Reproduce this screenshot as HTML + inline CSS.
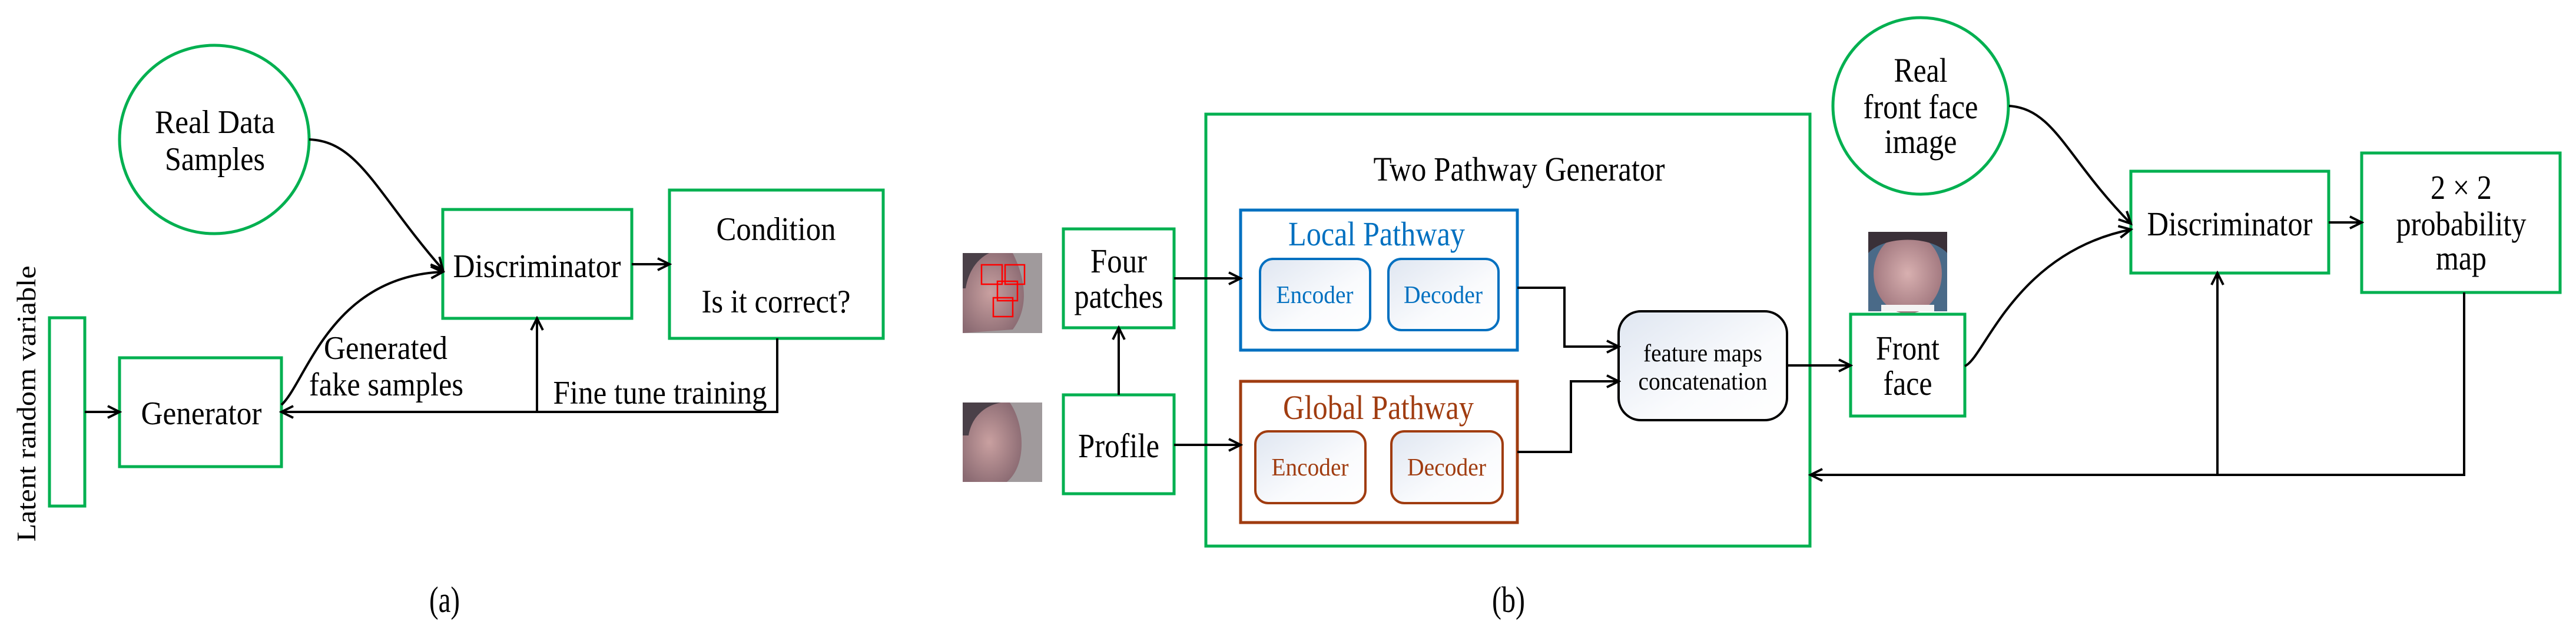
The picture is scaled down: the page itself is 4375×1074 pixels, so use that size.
<!DOCTYPE html>
<html><head><meta charset="utf-8"><style>
html,body{margin:0;padding:0;background:#fff;width:4375px;height:1074px;overflow:hidden}
svg{display:block}
svg text{font-family:"Liberation Serif","Times New Roman",serif;text-anchor:middle}
</style></head><body>
<svg width="4375" height="1074" viewBox="0 0 4375 1074" xmlns="http://www.w3.org/2000/svg" font-family="Liberation Serif, serif">
<defs>
<marker id="ah" markerWidth="30" markerHeight="30" refX="26" refY="15" orient="auto" markerUnits="userSpaceOnUse">
<polyline points="6,5 26,15 6,25" fill="none" stroke="#000" stroke-width="4"/>
</marker>
<linearGradient id="gb" x1="0" y1="0" x2="1" y2="1"><stop offset="0" stop-color="#dfe6f1"/><stop offset="0.6" stop-color="#fafbfd"/><stop offset="1" stop-color="#fff"/></linearGradient>
<radialGradient id="skin" cx="0.45" cy="0.5" r="0.6"><stop offset="0" stop-color="#c9a0a0"/><stop offset="1" stop-color="#8a6a72"/></radialGradient>
<radialGradient id="skin2" cx="0.5" cy="0.5" r="0.6"><stop offset="0" stop-color="#d8b0b0"/><stop offset="1" stop-color="#9a7078"/></radialGradient>
</defs>

<!-- ============ (a) ============ -->
<g fill="none" stroke="#00b050" stroke-width="5">
<ellipse cx="364" cy="237" rx="161" ry="160"/>
<rect x="752" y="356" width="321" height="185"/>
<rect x="1137" y="323" width="363" height="252"/>
<rect x="84" y="540" width="60" height="320"/>
<rect x="203" y="608" width="275" height="185"/>
</g>
<g fill="none" stroke="#000" stroke-width="4">
<path d="M525,237 C610,240 640,330 752,458" marker-end="url(#ah)"/>
<path d="M478,688 C520,650 560,470 752,462" marker-end="url(#ah)"/>
<line x1="1073" y1="449" x2="1137" y2="449" marker-end="url(#ah)"/>
<line x1="144" y1="700" x2="203" y2="700" marker-end="url(#ah)"/>
<polyline points="1320,575 1320,700 912,700"/>
<line x1="912" y1="700" x2="912" y2="541" marker-end="url(#ah)"/>
<line x1="912" y1="700" x2="478" y2="700" marker-end="url(#ah)"/>
</g>
<g font-size="56" fill="#000">
<text x="365" y="226" textLength="204" lengthAdjust="spacingAndGlyphs">Real Data</text>
<text x="365" y="289" textLength="170" lengthAdjust="spacingAndGlyphs">Samples</text>
<text x="912" y="471" textLength="285" lengthAdjust="spacingAndGlyphs">Discriminator</text>
<text x="1318" y="408" textLength="203" lengthAdjust="spacingAndGlyphs">Condition</text>
<text x="1318" y="531" textLength="253" lengthAdjust="spacingAndGlyphs">Is it correct?</text>
<text x="342" y="721" textLength="205" lengthAdjust="spacingAndGlyphs">Generator</text>
<text x="655" y="610" textLength="210" lengthAdjust="spacingAndGlyphs">Generated</text>
<text x="656" y="672" textLength="262" lengthAdjust="spacingAndGlyphs">fake samples</text>
<text x="1121" y="686" textLength="363" lengthAdjust="spacingAndGlyphs">Fine tune training</text>
<text x="755" y="1040" font-size="62" textLength="52" lengthAdjust="spacingAndGlyphs">(a)</text>
<text transform="translate(60,686) rotate(-90)" x="0" y="0" font-size="46" textLength="469" lengthAdjust="spacingAndGlyphs">Latent random variable</text>
</g>

<!-- ============ (b) ============ -->
<rect x="1635" y="430" width="135" height="136" fill="#a09a9c"/>
<path d="M1635,430 L1720,430 C1740,470 1750,520 1720,560 L1635,566 Z" fill="url(#skin)"/>
<path d="M1635,430 L1680,430 C1660,440 1645,460 1640,490 L1635,490 Z" fill="#4a4048"/>
<rect x="1635" y="684" width="135" height="135" fill="#a09a9c"/>
<path d="M1635,684 L1715,684 C1740,720 1745,790 1710,819 L1635,819 Z" fill="url(#skin)"/>
<path d="M1635,684 L1700,684 C1670,690 1650,710 1645,740 L1635,740 Z" fill="#4a4048"/>
<g fill="none" stroke="#ff0000" stroke-width="2.5">
<rect x="1667" y="450" width="35" height="33"/>
<rect x="1707" y="450" width="33" height="33"/>
<rect x="1694" y="478" width="34" height="33"/>
<rect x="1687" y="506" width="33" height="32"/>
</g>
<rect x="3173" y="394" width="134" height="135" fill="#4a6a88"/>
<ellipse cx="3240" cy="465" rx="58" ry="68" fill="url(#skin2)"/>
<path d="M3173,394 L3307,394 L3307,430 C3280,400 3200,400 3173,430 Z" fill="#3a3038"/>
<rect x="3195" y="518" width="90" height="11" fill="#f4f4f4"/>

<g fill="none" stroke="#00b050" stroke-width="5">
<rect x="2048" y="194" width="1026" height="734"/>
<rect x="1806" y="389" width="188" height="168"/>
<rect x="1806" y="671" width="188" height="168"/>
<ellipse cx="3262" cy="180" rx="149" ry="150"/>
<rect x="3143" y="534" width="194" height="173"/>
<rect x="3619" y="291" width="336" height="173"/>
<rect x="4011" y="260" width="337" height="237"/>
</g>
<rect x="2107" y="357" width="470" height="238" fill="none" stroke="#0070c0" stroke-width="5"/>
<rect x="2140" y="440" width="187" height="121" rx="22" fill="url(#gb)" stroke="#0070c0" stroke-width="4"/>
<rect x="2358" y="440" width="187" height="121" rx="22" fill="url(#gb)" stroke="#0070c0" stroke-width="4"/>
<rect x="2107" y="648" width="470" height="240" fill="none" stroke="#a03c10" stroke-width="5"/>
<rect x="2132" y="733" width="187" height="122" rx="22" fill="url(#gb)" stroke="#a03c10" stroke-width="4"/>
<rect x="2363" y="733" width="189" height="122" rx="22" fill="url(#gb)" stroke="#a03c10" stroke-width="4"/>
<rect x="2749" y="529" width="286" height="185" rx="38" fill="url(#gb)" stroke="#000" stroke-width="4"/>

<g fill="none" stroke="#000" stroke-width="4">
<line x1="1994" y1="473" x2="2107" y2="473" marker-end="url(#ah)"/>
<line x1="1994" y1="756" x2="2107" y2="756" marker-end="url(#ah)"/>
<line x1="1900" y1="671" x2="1900" y2="557" marker-end="url(#ah)"/>
<polyline points="2577,489 2657,489 2657,589 2749,589" marker-end="url(#ah)"/>
<polyline points="2577,768 2668,768 2668,648 2749,648" marker-end="url(#ah)"/>
<line x1="3035" y1="621" x2="3143" y2="621" marker-end="url(#ah)"/>
<path d="M3412,180 C3490,185 3510,270 3619,380" marker-end="url(#ah)"/>
<path d="M3337,622 C3370,610 3420,430 3619,390" marker-end="url(#ah)"/>
<line x1="3955" y1="378" x2="4011" y2="378" marker-end="url(#ah)"/>
<polyline points="4185,497 4185,807 3766,807"/>
<line x1="3766" y1="807" x2="3766" y2="464" marker-end="url(#ah)"/>
<line x1="3766" y1="807" x2="3075" y2="807" marker-end="url(#ah)"/>
</g>

<g font-size="58" fill="#000">
<text x="2580" y="307" textLength="495" lengthAdjust="spacingAndGlyphs">Two Pathway Generator</text>
<text x="2338" y="417" fill="#0070c0" textLength="300" lengthAdjust="spacingAndGlyphs">Local Pathway</text>
<text x="2341" y="712" fill="#a03c10" textLength="324" lengthAdjust="spacingAndGlyphs">Global Pathway</text>
<text x="1900" y="463" textLength="96" lengthAdjust="spacingAndGlyphs">Four</text>
<text x="1900" y="523" textLength="151" lengthAdjust="spacingAndGlyphs">patches</text>
<text x="1900" y="777" textLength="138" lengthAdjust="spacingAndGlyphs">Profile</text>
<text x="3262" y="139" textLength="91" lengthAdjust="spacingAndGlyphs">Real</text>
<text x="3262" y="201" textLength="195" lengthAdjust="spacingAndGlyphs">front face</text>
<text x="3262" y="260" textLength="123" lengthAdjust="spacingAndGlyphs">image</text>
<text x="3240" y="611" textLength="108" lengthAdjust="spacingAndGlyphs">Front</text>
<text x="3240" y="671" textLength="83" lengthAdjust="spacingAndGlyphs">face</text>
<text x="3787" y="400" textLength="281" lengthAdjust="spacingAndGlyphs">Discriminator</text>
<text x="4180" y="338" textLength="104" lengthAdjust="spacingAndGlyphs">2 × 2</text>
<text x="4180" y="400" textLength="221" lengthAdjust="spacingAndGlyphs">probability</text>
<text x="4180" y="458" textLength="86" lengthAdjust="spacingAndGlyphs">map</text>
<text x="2562" y="1040" font-size="62" textLength="56" lengthAdjust="spacingAndGlyphs">(b)</text>
</g>
<g font-size="42">
<text x="2233" y="515" fill="#0070c0" textLength="131" lengthAdjust="spacingAndGlyphs">Encoder</text>
<text x="2451" y="515" fill="#0070c0" textLength="134" lengthAdjust="spacingAndGlyphs">Decoder</text>
<text x="2225" y="808" fill="#a03c10" textLength="131" lengthAdjust="spacingAndGlyphs">Encoder</text>
<text x="2457" y="808" fill="#a03c10" textLength="134" lengthAdjust="spacingAndGlyphs">Decoder</text>
<text x="2892" y="614" fill="#000" textLength="202" lengthAdjust="spacingAndGlyphs">feature maps</text>
<text x="2892" y="662" fill="#000" textLength="219" lengthAdjust="spacingAndGlyphs">concatenation</text>
</g>
</svg>
</body></html>
